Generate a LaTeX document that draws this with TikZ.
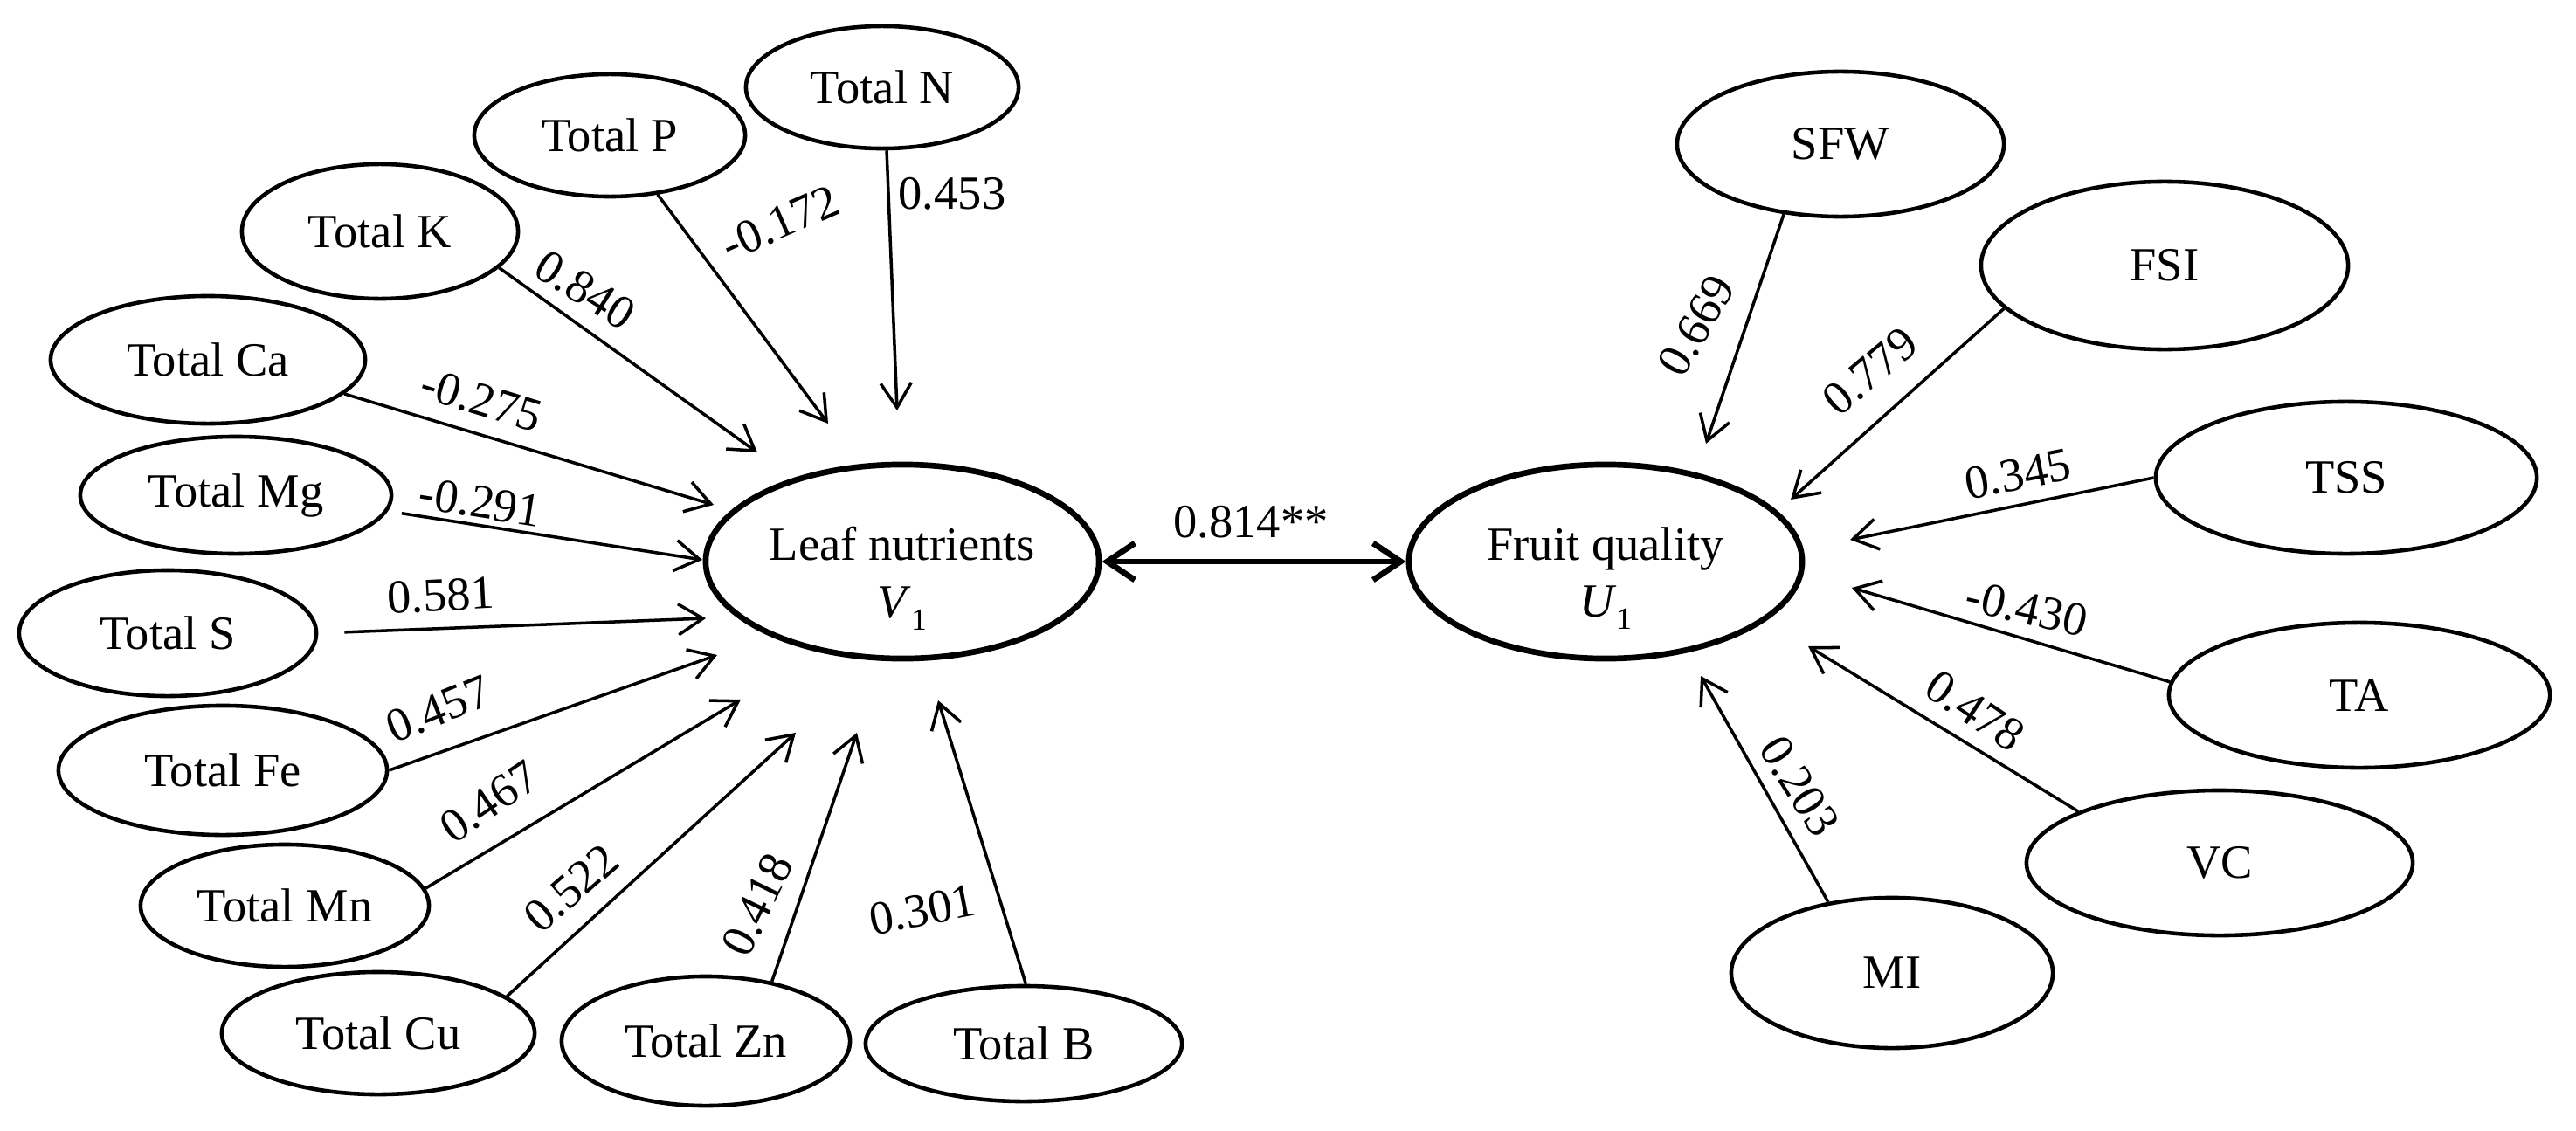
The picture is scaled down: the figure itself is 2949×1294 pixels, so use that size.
\documentclass[tikz,border=0pt]{standalone}
\usepackage{fontspec}
\setmainfont{Liberation Serif}
\usetikzlibrary{shapes.geometric,arrows.meta}
\newcommand{\subone}{\raisebox{-4pt}{\fontsize{10}{10}\selectfont 1}}
\begin{document}
\begin{tikzpicture}[x=0.01cm,y=-0.01cm,
  every node/.style={font=\fontsize{15.5}{18.7}\selectfont},
  el/.style={ellipse,draw,line width=1.3pt,inner sep=0pt},
  bigel/.style={ellipse,draw,line width=1.9pt,inner sep=0pt,minimum width=4.5cm,minimum height=2.22cm},
  arr/.style={-{Straight Barb[length=8pt,width=10pt]},line width=1pt},
  dblarr/.style={{Straight Barb[length=9pt,width=12pt]}-{Straight Barb[length=9pt,width=12pt]},line width=1.9pt},
  lab/.style={inner sep=0pt},
  captext/.style={align=center,inner sep=0pt,yshift=-0.19cm}]
\useasboundingbox (0,0) rectangle (2949,1294);

% central latent variables
\node[bigel,label={[captext]center:Leaf nutrients\\\textit{V}\subone}] (L) at (1033,643) {};
\node[bigel,label={[captext]center:Fruit quality\\\textit{U}\subone}] (F) at (1838,643) {};

% leaf nutrient indicators
\node[el,minimum width=3.12cm,minimum height=1.40cm] (N)  at (1010,100)  {Total N};
\node[el,minimum width=3.10cm,minimum height=1.40cm] (P)  at (698,155)   {Total P};
\node[el,minimum width=3.16cm,minimum height=1.54cm] (K)  at (435,265)   {Total K};
\node[el,minimum width=3.60cm,minimum height=1.46cm] (Ca) at (238,412)   {Total Ca};
\node[el,minimum width=3.56cm,minimum height=1.34cm] (Mg) at (270,567)   {Total Mg};
\node[el,minimum width=3.40cm,minimum height=1.44cm] (S)  at (192,725)   {Total S};
\node[el,minimum width=3.76cm,minimum height=1.48cm] (Fe) at (255,882)   {Total Fe};
\node[el,minimum width=3.30cm,minimum height=1.40cm] (Mn) at (326,1037)  {Total Mn};
\node[el,minimum width=3.58cm,minimum height=1.40cm] (Cu) at (433,1183)  {Total Cu};
\node[el,minimum width=3.30cm,minimum height=1.48cm] (Zn) at (808,1192)  {Total Zn};
\node[el,minimum width=3.62cm,minimum height=1.32cm] (B)  at (1172,1195) {Total B};

% fruit quality indicators
\node[el,minimum width=3.74cm,minimum height=1.66cm] (SFW) at (2107,165)  {SFW};
\node[el,minimum width=4.20cm,minimum height=1.92cm] (FSI) at (2478,304)  {FSI};
\node[el,minimum width=4.36cm,minimum height=1.74cm] (TSS) at (2686,547)  {TSS};
\node[el,minimum width=4.36cm,minimum height=1.66cm] (TA)  at (2701,796)  {TA};
\node[el,minimum width=4.42cm,minimum height=1.66cm] (VC)  at (2541,988)  {VC};
\node[el,minimum width=3.68cm,minimum height=1.72cm] (MI)  at (2166,1114) {MI};

% arrow tips
\coordinate (tN)  at (1027,470);
\coordinate (tP)  at (948,485);
\coordinate (tK)  at (867,518);
\coordinate (tCa) at (817,578);
\coordinate (tMg) at (804,641);
\coordinate (tS)  at (808,708);
\coordinate (tFe) at (821,750);
\coordinate (tMn) at (848,801);
\coordinate (tCu) at (911,839);
\coordinate (tZn) at (981,839);
\coordinate (tB)  at (1074,802);
\coordinate (tSFW) at (1953,508);
\coordinate (tFSI) at (2050,572);
\coordinate (tTSS) at (2118,618);
\coordinate (tTA)  at (2120,673);
\coordinate (tVC)  at (2070,740);
\coordinate (tMI)  at (1947,774);

% connectors
\draw[arr] (N.-86) -- (tN);
\draw[arr] (P.-51) -- (tP);
\draw[arr] (K.-17) -- (tK);
\draw[arr] (Ca.-14) -- (tCa);
\draw[arr,shorten <=0.16cm] (Mg.-6) -- (tMg);
\draw[arr,shorten <=0.30cm] (S.east) -- (tS);
\draw[arr] (Fe.east) -- (tFe);
\draw[arr] (Mn.7) -- (tMn);
\draw[arr] (Cu.16) -- (tCu);
\draw[arr] (Zn.42) -- (tZn);
\draw[arr] (B.88) -- (tB);
\draw[arr] (SFW.-129) -- (tSFW);
\draw[arr] (FSI.-165) -- (tFSI);
\draw[arr] (TSS.180) -- (tTSS);
\draw[arr] (TA.176) -- (tTA);
\draw[arr] (VC.160) -- (tVC);
\draw[arr] (MI.132) -- (tMI);
\draw[dblarr] (L.east) -- (F.west);

% coefficients
\node[lab] (c1)  at (1090,222) {0.453};
\node[lab,rotate=23.5] (c2) at (893,255) {-0.172};
\node[lab,rotate=-32] (c3) at (670,332) {0.840};
\node[lab,rotate=-17] (c4) at (551,458) {-0.275};
\node[lab,rotate=-9] (c5) at (550,575) {-0.291};
\node[lab,rotate=3] (c6) at (505,682) {0.581};
\node[lab,rotate=22] (c7) at (502,812) {0.457};
\node[lab,rotate=34] (c8) at (560,918) {0.467};
\node[lab,rotate=41] (c9) at (654,1017) {0.522};
\node[lab,rotate=64] (c10) at (867,1036) {0.418};
\node[lab,rotate=11] (c11) at (1056,1042) {0.301};
\node[lab] (c12) at (1432,598) {0.814**};
\node[lab,rotate=60] (d1) at (1942,373) {0.669};
\node[lab,rotate=40] (d2) at (2141,425) {0.779};
\node[lab,rotate=11] (d3) at (2310,543) {0.345};
\node[lab,rotate=-13] (d4) at (2320,697) {-0.430};
\node[lab,rotate=-34] (d5) at (2261,814) {0.478};
\node[lab,rotate=-58] (d6) at (2060,900) {0.203};
\end{tikzpicture}
\end{document}
